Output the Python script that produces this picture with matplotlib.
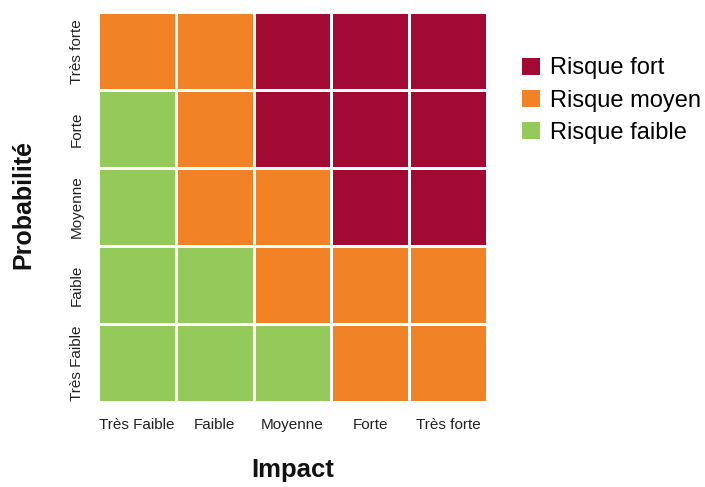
#!/usr/bin/env python3
import numpy as np
import matplotlib
matplotlib.use("Agg")
import matplotlib.pyplot as plt
from matplotlib.colors import ListedColormap
from matplotlib.patches import Patch

plt.rcParams["font.family"] = ["Liberation Sans", "DejaVu Sans"]

impact_labels = ["Très Faible", "Faible", "Moyenne", "Forte", "Très forte"]
proba_labels = ["Très Faible", "Faible", "Moyenne", "Forte", "Très forte"]
# 0 = faible, 1 = moyen, 2 = fort ; rows from "Très Faible" (bottom) up
risk_levels = [
    [0, 0, 0, 1, 1],
    [0, 0, 1, 1, 1],
    [0, 1, 1, 2, 2],
    [0, 1, 2, 2, 2],
    [1, 1, 2, 2, 2],
]
level_names = ["Risque faible", "Risque moyen", "Risque fort"]
level_colors = ["#94CA5A", "#F28226", "#A20A33"]

fig = plt.figure(figsize=(7.05, 4.87), dpi=100)
ax = fig.add_axes([0.139, 0.175, 0.552, 0.800])

grid = np.array(risk_levels)
ax.pcolormesh(grid, cmap=ListedColormap(level_colors), vmin=-0.5, vmax=2.5,
              edgecolors="white", linewidth=2)
ax.set_xlim(0, 5)
ax.set_ylim(0, 5)
ax.set_xticks(np.arange(5) + 0.5)
ax.set_xticklabels(impact_labels, fontsize=11, color="#222222")
ax.set_yticks(np.arange(5) + 0.5)
ax.set_yticklabels(proba_labels, fontsize=11, color="#222222",
                   rotation=90, va="center")
ax.tick_params(axis="x", length=0, pad=12)
ax.tick_params(axis="y", length=0, pad=10)
for spine in ax.spines.values():
    spine.set_visible(False)

fig.text(0.415, 0.035, "Impact", ha="center", va="center",
         fontsize=18.5, fontweight="bold", color="#111111")
fig.text(0.033, 0.581, "Probabilité", ha="center", va="center",
         rotation=90, fontsize=18, fontweight="bold", color="#111111")

handles = [Patch(facecolor=level_colors[i], edgecolor="none")
           for i in (2, 1, 0)]
labels = [level_names[i] for i in (2, 1, 0)]
fig.legend(handles, labels, loc="upper left", bbox_to_anchor=(0.741, 0.882),
           frameon=False, fontsize=17, handlelength=0.75, handleheight=0.75,
           handletextpad=0.4, labelspacing=0.43, borderaxespad=0,
           borderpad=0)

fig.savefig("out.png", dpi=100)
